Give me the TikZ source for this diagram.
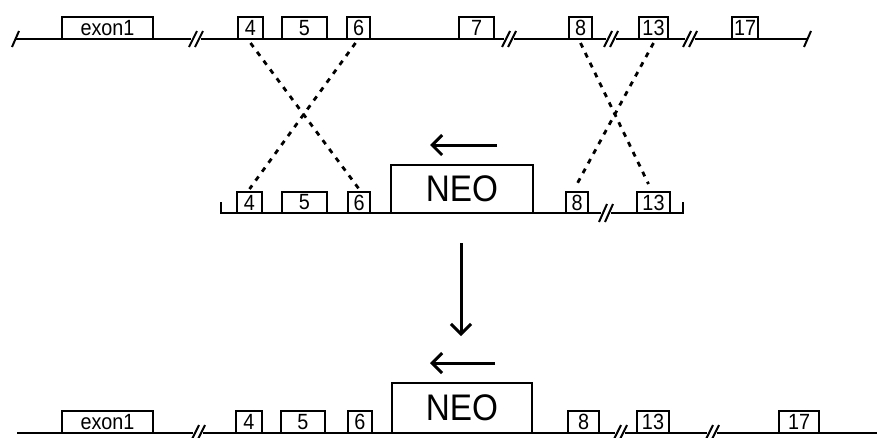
\documentclass[tikz,border=0pt]{standalone}
\usepackage{fontspec}
\setmainfont{Liberation Sans}
\newfontfamily\labfont[FakeStretch=0.9]{Liberation Sans}
\usetikzlibrary{arrows.meta}
\tikzset{
  exonbox/.style={draw, line width=2pt, inner sep=0pt, minimum height=22pt,
    font=\labfont\fontsize{22}{22}\selectfont},
  neobox/.style={draw, line width=2pt, inner sep=0pt,
    font=\labfont\fontsize{37}{37}\selectfont},
  dna/.style={line width=2.6pt},
  slash/.style={line width=2pt},
  xover/.style={line width=2.8pt, dash pattern=on 5pt off 6pt},
  bigarrow/.style={line width=3pt, -{Straight Barb[length=10pt,width=20pt,line width=3pt]}},
}
\newcommand{\brk}[3]{% x, y, half height
  \draw[slash] (#1-7,#2+#3) -- (#1+1,#2-#3);
  \draw[slash] (#1-1,#2+#3) -- (#1+7,#2-#3);
}
\begin{document}
\begin{tikzpicture}[x=1pt,y=-1pt]
\useasboundingbox (0,0) rectangle (877,437);
% ---------- top (wild-type locus)
\draw[dna] (15,39) -- (191,39);
\draw[dna] (201,39) -- (504,39);
\draw[dna] (514,39) -- (606,39);
\draw[dna] (616,39) -- (685,39);
\draw[dna] (695,39) -- (807,39);
\draw[slash] (12,47) -- (19,31);
\draw[slash] (804,47) -- (811,31);
\brk{196}{39}{8}
\brk{509}{39}{8}
\brk{611}{39}{8}
\brk{690}{39}{8}
\node[exonbox, minimum width=91pt] (te1) at (107.5,28) {exon1};
\node[exonbox, minimum width=25pt] (t4) at (250.5,28) {4};
\node[exonbox, minimum width=45pt] (t5) at (304.5,28) {5};
\node[exonbox, minimum width=23pt] (t6) at (358.5,28) {6};
\node[exonbox, minimum width=35pt] (t7) at (476.5,28) {7};
\node[exonbox, minimum width=23pt] (t8) at (580.5,28) {8};
\node[exonbox, minimum width=29pt] (t13) at (653.5,28) {13};
\node[exonbox, minimum width=26pt] (t17) at (745,28) {17};
% ---------- middle (targeting vector)
\draw[dna] (221,202) -- (221,213) -- (601,213);
\draw[dna] (611,213) -- (683,213) -- (683,202);
\brk{606}{213}{9}
\node[exonbox, minimum width=25pt, minimum height=21pt] (m4) at (249.5,202.5) {4};
\node[exonbox, minimum width=45pt, minimum height=21pt] (m5) at (304.5,202.5) {5};
\node[exonbox, minimum width=22pt, minimum height=21pt] (m6) at (359,202.5) {6};
\node[neobox, minimum width=142pt, minimum height=48pt] (mneo) at (462,189) {NEO};
\node[exonbox, minimum width=22pt, minimum height=21pt] (m8) at (577,202.5) {8};
\node[exonbox, minimum width=33pt, minimum height=21pt] (m13) at (653.5,202.5) {13};
\coordinate (ma1) at (497,145);
\coordinate (ma2) at (430,145);
\draw[bigarrow] (ma1) -- (ma2);
% crossovers
\draw[xover] ([yshift=-3pt]t4.south) -- ([yshift=2pt]m6.north);
\draw[xover] ([yshift=-3pt,xshift=-3pt]t6.south) -- ([yshift=2pt]m4.north);
\draw[xover] ([yshift=-3pt]t8.south) -- ([yshift=7pt,xshift=-5pt]m13.north);
\draw[xover] ([yshift=-3pt]t13.south) -- ([yshift=7pt]m8.north);
% ---------- down arrow
\coordinate (da1) at (461,243);
\coordinate (da2) at (461,336);
\draw[bigarrow] (da1) -- (da2);
% ---------- bottom (targeted locus)
\draw[dna] (17,433) -- (193,433);
\draw[dna] (203,433) -- (615,433);
\draw[dna] (625,433) -- (707,433);
\draw[dna] (717,433) -- (877,433);
\brk{198}{433}{8}
\brk{620}{433}{8}
\brk{712}{433}{8}
\node[exonbox, minimum width=91pt] (be1) at (107.5,422) {exon1};
\node[exonbox, minimum width=26pt] (b4) at (249,422) {4};
\node[exonbox, minimum width=44pt] (b5) at (303,422) {5};
\node[exonbox, minimum width=24pt] (b6) at (360,422) {6};
\node[neobox, minimum width=140pt, minimum height=50pt] (bneo) at (462,408) {NEO};
\node[exonbox, minimum width=31pt] (b8) at (583.5,422) {8};
\node[exonbox, minimum width=32pt] (b13) at (653,422) {13};
\node[exonbox, minimum width=40pt] (b17) at (799,422) {17};
\coordinate (ba1) at (495,363);
\coordinate (ba2) at (430,363);
\draw[bigarrow] (ba1) -- (ba2);
\end{tikzpicture}
\end{document}
